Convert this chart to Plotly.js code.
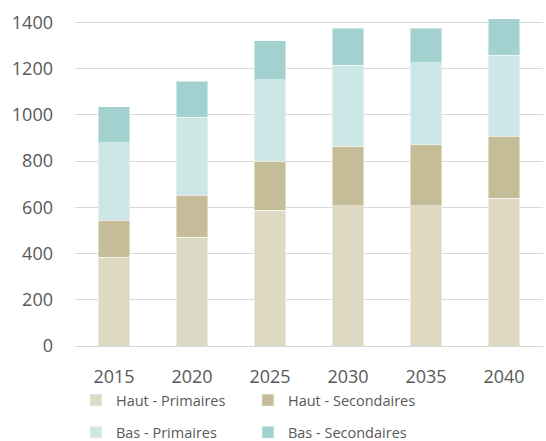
<!DOCTYPE html>
<html>
<head>
<meta charset="utf-8">
<script src="https://cdn.plot.ly/plotly-3.0.1.min.js"></script>
<style>
  html, body { margin: 0; padding: 0; background: #fff; }
  #plot { width: 546px; height: 441px; }
</style>
</head>
<body>
<div id="plot"></div>
<script>
const annees = ["2015", "2020", "2025", "2030", "2035", "2040"];
const hautPrimaires = [385, 470, 587, 606, 608, 639];
const hautSecondaires = [160, 183, 212, 259, 264, 269];
const basPrimaires = [335, 336, 354, 350, 354, 350];
const basSecondaires = [155, 156, 167, 161, 150, 158];
const yTicks = [0, 200, 400, 600, 800, 1000, 1200, 1400];

const police = "'Open Sans', 'Liberation Sans', sans-serif";
const gris = "#595959";

const barre = (nom, valeurs, couleur, legende) => ({
  x: annees,
  y: valeurs,
  type: "bar",
  name: nom,
  width: 0.4,
  legend: legende,
  marker: { color: couleur, line: { color: "rgba(255,255,255,0.45)", width: 1 } },
});

const data = [
  barre("Haut - Primaires", hautPrimaires, "#ddd9c3", "legend"),
  barre("Haut - Secondaires", hautSecondaires, "#c4bd97", "legend"),
  barre("Bas - Primaires", basPrimaires, "#cde6e6", "legend2"),
  barre("Bas - Secondaires", basSecondaires, "#a2d1cf", "legend2"),
];

const legendeBase = {
  orientation: "h",
  x: 0.002,
  xanchor: "left",
  yanchor: "middle",
  entrywidth: 127,
  traceorder: "normal",
  font: { family: police, size: 14.5, color: gris },
  bgcolor: "rgba(0,0,0,0)",
};

const layout = {
  width: 546,
  height: 441,
  margin: { l: 75, r: 3, t: 18, b: 95, autoexpand: false },
  barmode: "stack",
  paper_bgcolor: "#fff",
  plot_bgcolor: "#fff",
  font: { family: police, color: gris },
  showlegend: true,
  legend: Object.assign({}, legendeBase, { y: -0.165 }),
  legend2: Object.assign({}, legendeBase, { y: -0.263 }),
  xaxis: {
    type: "category",
    range: [-0.5, 5.5],
    showgrid: false,
    showline: false,
    zeroline: false,
    ticks: "",
    ticklabelstandoff: 18,
    tickfont: { family: police, size: 18, color: gris },
  },
  yaxis: {
    range: [0, 1419.5],
    tickvals: yTicks,
    ticktext: yTicks.map(String),
    showgrid: true,
    gridcolor: "#d9d9d9",
    gridwidth: 1,
    zeroline: true,
    zerolinecolor: "#d9d9d9",
    zerolinewidth: 1,
    showline: false,
    ticks: "",
    ticklabelstandoff: 21,
    tickfont: { family: police, size: 18, color: gris },
  },
};

Plotly.newPlot("plot", data, layout, { displayModeBar: false, staticPlot: true });
</script>
</body>
</html>
